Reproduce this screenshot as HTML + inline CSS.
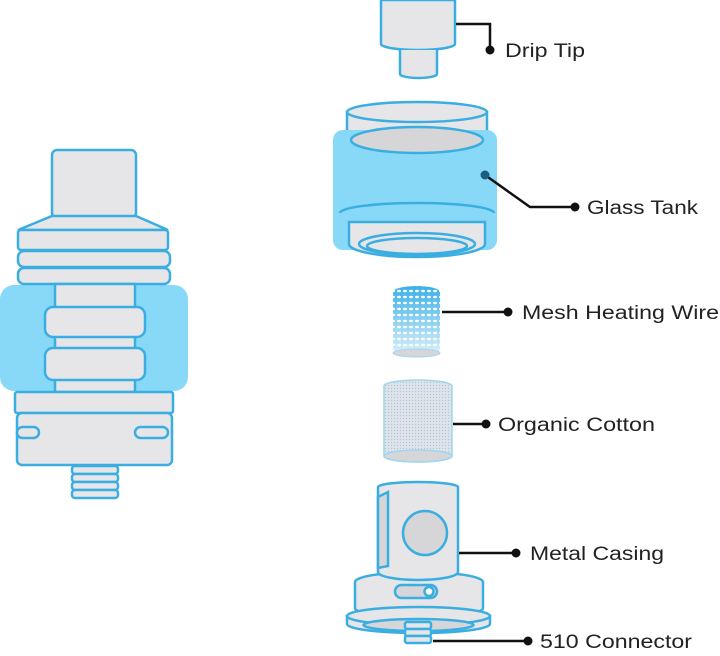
<!DOCTYPE html>
<html><head><meta charset="utf-8"><style>
html,body{margin:0;padding:0;background:#fff;}
svg{display:block;}
text{font-family:"Liberation Sans",sans-serif;font-size:19px;fill:#222;}
</style></head><body>
<svg width="720" height="656" viewBox="0 0 720 656" xmlns="http://www.w3.org/2000/svg">
<defs>
<pattern id="mesh" width="6" height="6" patternUnits="userSpaceOnUse">
<rect width="6" height="6" fill="#3ab0e8"/>
<ellipse cx="3" cy="3" rx="2" ry="1.2" fill="#ffffff"/>
</pattern>
<linearGradient id="fade" x1="0" y1="0" x2="0" y2="1">
<stop offset="0" stop-color="#fff" stop-opacity="0"/>
<stop offset="1" stop-color="#fff" stop-opacity="0.85"/>
</linearGradient>
<pattern id="cot" width="3" height="3" patternUnits="userSpaceOnUse">
<rect width="3" height="3" fill="#dde3e8"/>
<circle cx="1.5" cy="1.5" r="0.6" fill="#a9c7da"/>
</pattern>
</defs>
<g stroke="#3aaee0" stroke-width="2.5" fill="#e6e6e8">
<!-- LEFT DEVICE -->
<rect x="0" y="285" width="188" height="106" rx="14" fill="#88d8f8" stroke="none"/>
<rect x="52" y="150" width="84" height="68" rx="5"/>
<path d="M52 216 L136 216 L168 230 L18 230 Z"/>
<rect x="18" y="230" width="150" height="20" rx="3"/>
<rect x="18" y="251" width="152" height="16" rx="6"/>
<rect x="18" y="268" width="152" height="16" rx="6"/>
<rect x="55" y="284" width="80" height="108" fill="#e6e6e8"/>
<rect x="45" y="307" width="100" height="30" rx="8"/>
<rect x="45" y="348" width="100" height="32" rx="8"/>
<rect x="15" y="392" width="158" height="21" rx="2"/>
<rect x="17" y="413" width="155" height="52" rx="5"/>
<rect x="17" y="427" width="22" height="11" rx="5.5"/>
<rect x="135" y="427" width="33" height="11" rx="5.5"/>
<rect x="72" y="466" width="46" height="8" rx="3"/>
<rect x="72" y="474" width="46" height="8" rx="3"/>
<rect x="72" y="482" width="46" height="8" rx="3"/>
<rect x="72" y="490" width="46" height="8" rx="3"/>

<!-- DRIP TIP -->
<path d="M381 0 L381 44 A37 6 0 0 0 455 44 L455 0 Z"/>
<path d="M400 50 L400 74 A18.5 4 0 0 0 437 74 L437 50" />
<!-- GLASS TANK -->
<path d="M347 112 L347 148 A70 10 0 0 0 487 148 L487 112 Z"/>
<ellipse cx="417" cy="112" rx="70" ry="10"/>
<rect x="333" y="130" width="164" height="120" rx="10" fill="#88d8f8" stroke="none"/>
<ellipse cx="417" cy="140" rx="66" ry="13" fill="#d6d6d8"/>
<path d="M340 213 A77 10 0 0 1 494 213" fill="none"/>
<path d="M349 222 L349 244 A68 13 0 0 0 485 244 L485 222 Z"/>
<ellipse cx="417" cy="244" rx="58" ry="11"/>
<ellipse cx="417" cy="246" rx="50" ry="8"/>
<!-- MESH -->
<path d="M393 292 A23.5 6 0 0 1 440 292 L440 352 A23.5 5 0 0 1 393 352 Z" fill="url(#mesh)" stroke="none"/>
<path d="M393 292 A23.5 6 0 0 1 440 292 L440 352 A23.5 5 0 0 1 393 352 Z" fill="url(#fade)" stroke="none"/>
<ellipse cx="416.5" cy="353" rx="23.5" ry="4" fill="#d6d6d8" stroke="#9fd6ef" stroke-width="1"/>
<!-- COTTON -->
<path d="M384 386 A34 6 0 0 1 452 386 L452 456 A34 6 0 0 1 384 456 Z" fill="url(#cot)" stroke="#9fd6ef" stroke-width="1.5"/>
<ellipse cx="418" cy="456" rx="34" ry="6" fill="#d6d6d8" stroke="#9fd6ef" stroke-width="1.5"/>
<!-- METAL CASING -->
<path d="M355 582 A64 10 0 0 1 483 582 L483 608 A64 10 0 0 1 355 608 Z"/>
<path d="M378 487 A40 5 0 0 1 458 487 L458 572 A40 8 0 0 1 378 572 Z"/>
<path d="M378 497 L388 492 L388 566 L378 568 Z" fill="#d6d6d8"/>
<circle cx="425" cy="533" r="22" fill="#d6d6d8"/>
<rect x="395" y="585" width="42" height="13" rx="6.5" fill="#d6d6d8"/>
<circle cx="429" cy="591.5" r="4.5" fill="#fff"/>
<path d="M347 616 L347 624 A71.5 9 0 0 0 490 624 L490 616 Z"/>
<ellipse cx="418.5" cy="616" rx="71.5" ry="9"/>
<ellipse cx="418.5" cy="625" rx="55" ry="6" fill="#d6d6d8"/>
<rect x="405" y="622" width="26" height="7" rx="2"/>
<rect x="405" y="629" width="26" height="7" rx="2"/>
<rect x="405" y="636" width="26" height="7" rx="2"/>
</g>
<!-- connectors -->
<g stroke="#111" stroke-width="2.5" fill="none">
<path d="M456 24 L490 24 L490 50"/>
<path d="M485 175 L530 207 L575 207"/>
<path d="M442 312 L508 312"/>
<path d="M453 424 L486 424"/>
<path d="M459 553 L516 553"/>
<path d="M433 641 L528 641"/>
</g>
<g fill="#111">
<circle cx="490" cy="50" r="4.5"/>
<circle cx="485" cy="175" r="4.5" fill="#1a5f80"/>
<circle cx="575" cy="207" r="4.5"/>
<circle cx="508" cy="312" r="4.5"/>
<circle cx="486" cy="424" r="4.5"/>
<circle cx="516" cy="553" r="4.5"/>
<circle cx="528" cy="641" r="4.5"/>
</g>
<text x="505" y="57" textLength="80" lengthAdjust="spacingAndGlyphs">Drip Tip</text>
<text x="587" y="214" textLength="111" lengthAdjust="spacingAndGlyphs">Glass Tank</text>
<text x="522" y="319" textLength="197" lengthAdjust="spacingAndGlyphs">Mesh Heating Wire</text>
<text x="498" y="431" textLength="157" lengthAdjust="spacingAndGlyphs">Organic Cotton</text>
<text x="530" y="560" textLength="134" lengthAdjust="spacingAndGlyphs">Metal Casing</text>
<text x="540" y="648" textLength="152" lengthAdjust="spacingAndGlyphs">510 Connector</text>
</svg>
</body></html>
